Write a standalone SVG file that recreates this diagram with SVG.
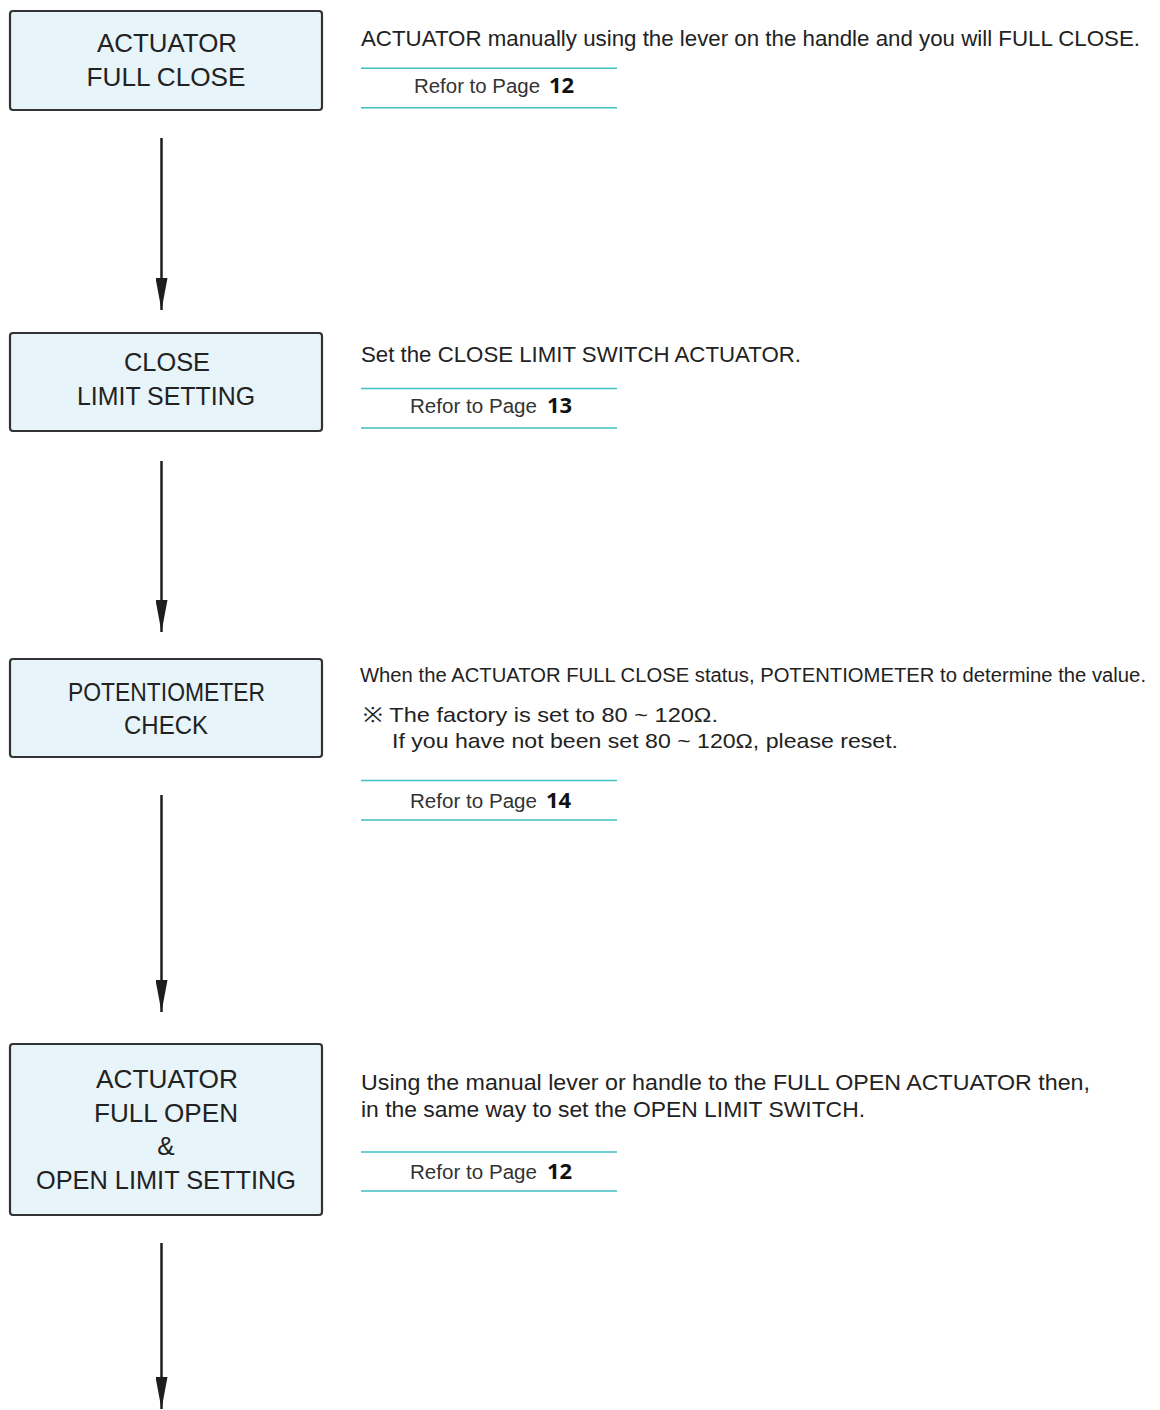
<svg xmlns="http://www.w3.org/2000/svg" width="1160" height="1410" viewBox="0 0 1160 1410">
<defs>
<marker id="ah" markerUnits="userSpaceOnUse" markerWidth="32" markerHeight="12" refX="32" refY="6" orient="auto" viewBox="0 0 32 12">
<path d="M0,0 L32,6 L0,12 z" fill="#1e1e1e"/>
</marker>
</defs>
<style>
.box{fill:#e7f4f9;stroke:#333;stroke-width:2.2}
.bt{font-family:"Liberation Sans",Arial,sans-serif;font-size:26px;fill:#222;text-anchor:middle}
.dt{font-family:"Liberation Sans",Arial,sans-serif;font-size:22px;fill:#222}
.nt{font-family:"Liberation Sans",Arial,sans-serif;font-size:21px;fill:#222}
.ref{font-family:"Liberation Sans",Arial,sans-serif;font-size:20px;fill:#333}
.num{font-family:"Open Sans","Liberation Sans",sans-serif;font-size:22px;font-weight:bold;fill:#111}
.rule{stroke:#3fbfc0;stroke-width:1.6}
.arr{stroke:#1e1e1e;stroke-width:2.5;fill:none}
</style>
<rect width="1160" height="1410" fill="#fff"/>

<g id="node1">
<rect class="box" x="10" y="11" width="312" height="99" rx="3"/>
<text class="bt" x="167" y="52" textLength="140" lengthAdjust="spacingAndGlyphs">ACTUATOR</text>
<text class="bt" x="166" y="86" textLength="159" lengthAdjust="spacingAndGlyphs">FULL CLOSE</text>
</g>
<g id="desc1">
<text class="dt" x="361" y="46" textLength="779" lengthAdjust="spacingAndGlyphs">ACTUATOR manually using the lever on the handle and you will FULL CLOSE.</text>
<line class="rule" x1="361" y1="68.3" x2="617" y2="68.3"/>
<text class="ref" x="414" y="93" textLength="126" lengthAdjust="spacingAndGlyphs">Refor to Page</text>
<text class="num" x="549" y="93">12</text>
<line class="rule" x1="361" y1="107.7" x2="617" y2="107.7"/>
</g>

<g id="node2">
<rect class="box" x="10" y="333" width="312" height="98" rx="3"/>
<text class="bt" x="167" y="371" textLength="86" lengthAdjust="spacingAndGlyphs">CLOSE</text>
<text class="bt" x="166" y="405" textLength="178" lengthAdjust="spacingAndGlyphs">LIMIT SETTING</text>
</g>
<g id="desc2">
<text class="dt" x="361" y="362" textLength="440" lengthAdjust="spacingAndGlyphs">Set the CLOSE LIMIT SWITCH ACTUATOR.</text>
<line class="rule" x1="361" y1="388.5" x2="617" y2="388.5"/>
<text class="ref" x="410" y="413" textLength="127" lengthAdjust="spacingAndGlyphs">Refor to Page</text>
<text class="num" x="547" y="413">13</text>
<line class="rule" x1="361" y1="428" x2="617" y2="428"/>
</g>

<g id="node3">
<rect class="box" x="10" y="659" width="312" height="98" rx="3"/>
<text class="bt" x="166.5" y="701" textLength="197" lengthAdjust="spacingAndGlyphs">POTENTIOMETER</text>
<text class="bt" x="166" y="734" textLength="84" lengthAdjust="spacingAndGlyphs">CHECK</text>
</g>
<g id="desc3">
<text class="dt" x="360" y="682" style="font-size:20px" textLength="786" lengthAdjust="spacingAndGlyphs">When the ACTUATOR FULL CLOSE status, POTENTIOMETER to determine the value.</text>
<text class="nt" x="363" y="722" textLength="355" lengthAdjust="spacingAndGlyphs">※ The factory is set to 80 ~ 120Ω.</text>
<text class="nt" x="392" y="748" textLength="506" lengthAdjust="spacingAndGlyphs">If you have not been set 80 ~ 120Ω, please reset.</text>
<line class="rule" x1="361" y1="780.5" x2="617" y2="780.5"/>
<text class="ref" x="410" y="808" textLength="127" lengthAdjust="spacingAndGlyphs">Refor to Page</text>
<text class="num" x="546" y="808">14</text>
<line class="rule" x1="361" y1="820" x2="617" y2="820"/>
</g>

<g id="node4">
<rect class="box" x="10" y="1044" width="312" height="171" rx="3"/>
<text class="bt" x="167" y="1088" textLength="142" lengthAdjust="spacingAndGlyphs">ACTUATOR</text>
<text class="bt" x="166" y="1122" textLength="144" lengthAdjust="spacingAndGlyphs">FULL OPEN</text>
<text class="bt" x="166" y="1155">&amp;</text>
<text class="bt" x="166" y="1189" textLength="260" lengthAdjust="spacingAndGlyphs">OPEN LIMIT SETTING</text>
</g>
<g id="desc4">
<text class="dt" x="361" y="1090" textLength="729" lengthAdjust="spacingAndGlyphs">Using the manual lever or handle to the FULL OPEN ACTUATOR then,</text>
<text class="dt" x="361" y="1117" textLength="504" lengthAdjust="spacingAndGlyphs">in the same way to set the OPEN LIMIT SWITCH.</text>
<line class="rule" x1="361" y1="1152" x2="617" y2="1152"/>
<text class="ref" x="410" y="1179" textLength="127" lengthAdjust="spacingAndGlyphs">Refor to Page</text>
<text class="num" x="547" y="1179">12</text>
<line class="rule" x1="361" y1="1191" x2="617" y2="1191"/>
</g>

<g id="connectors">
<line class="arr" x1="161.5" y1="138" x2="161.5" y2="310" marker-end="url(#ah)"/>
<line class="arr" x1="161.5" y1="461" x2="161.5" y2="632" marker-end="url(#ah)"/>
<line class="arr" x1="161.5" y1="795" x2="161.5" y2="1012" marker-end="url(#ah)"/>
<line class="arr" x1="161.5" y1="1243" x2="161.5" y2="1409" marker-end="url(#ah)"/>
</g>
</svg>
